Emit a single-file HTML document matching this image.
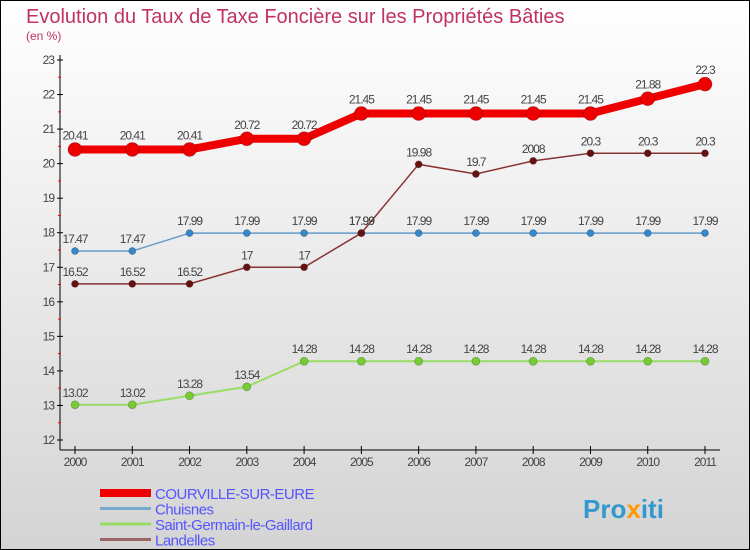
<!DOCTYPE html>
<html><head><meta charset="utf-8"><style>
body{margin:0}
#c{width:750px;height:550px;position:relative;overflow:hidden}
</style></head><body>
<div id="c">
<svg id="s" width="750" height="550" xmlns="http://www.w3.org/2000/svg" font-family="Liberation Sans, sans-serif">
<defs><linearGradient id="bg" x1="0" y1="0" x2="0" y2="1"><stop offset="0" stop-color="#ffffff"/><stop offset="1" stop-color="#d4d4d4"/></linearGradient></defs>
<rect x="0.5" y="0.5" width="749" height="549" fill="url(#bg)" stroke="#000"/>
<text x="26" y="23" font-size="20" fill="#c0335f">Evolution du Taux de Taxe Foncière sur les Propriétés Bâties</text>
<text x="26" y="40" font-size="12" fill="#c0335f">(en %)</text>
<g id="axes"></g>
<g id="series"></g>
<g id="legend"></g>
<text x="583" y="518" font-size="26" font-weight="bold" fill="#3399cc">Pro<tspan fill="#ff9900">x</tspan>iti</text>
</svg>
</div>
<script>
const years=[2000,2001,2002,2003,2004,2005,2006,2007,2008,2009,2010,2011];
const yTicks=[12,13,14,15,16,17,18,19,20,21,22,23];
const courville=[20.41,20.41,20.41,20.72,20.72,21.45,21.45,21.45,21.45,21.45,21.88,22.3];
const chuisnes=[17.47,17.47,17.99,17.99,17.99,17.99,17.99,17.99,17.99,17.99,17.99,17.99];
const stGermain=[13.02,13.02,13.28,13.54,14.28,14.28,14.28,14.28,14.28,14.28,14.28,14.28];
const landelles=[16.52,16.52,16.52,17,17,17.99,19.98,19.7,20.08,20.3,20.3,20.3];
const courvilleLbl=["20.41","20.41","20.41","20.72","20.72","21.45","21.45","21.45","21.45","21.45","21.88","22.3"];
const chuisnesLbl=["17.47","17.47","17.99","17.99","17.99","17.99","17.99","17.99","17.99","17.99","17.99","17.99"];
const stGermainLbl=["13.02","13.02","13.28","13.54","14.28","14.28","14.28","14.28","14.28","14.28","14.28","14.28"];
const landellesLbl=["16.52","16.52","16.52","17","17","17.99","19.98","19.7","2008","20.3","20.3","20.3"];
const seriesNames=["COURVILLE-SUR-EURE","Chuisnes","Saint-Germain-le-Gaillard","Landelles"];

const NS="http://www.w3.org/2000/svg";
const x=i=>75+i*(630/11);
const y=v=>440-(v-12)*(380/11);
function mk(tag,attrs,parent){const e=document.createElementNS(NS,tag);for(const k in attrs)e.setAttribute(k,attrs[k]);parent.appendChild(e);return e;}
const ax=document.getElementById('axes');
let e=mk('line',{x1:60,y1:55,x2:60,y2:450,stroke:'#000'},ax);


e=mk('line',{x1:60,y1:450,x2:720,y2:450,stroke:'#000'},ax);


yTicks.forEach(t=>{
  mk('line',{x1:57,x2:63,y1:y(t),y2:y(t),stroke:'#000'},ax);
  if(t<23) mk('line',{x1:58,x2:61,y1:y(t+0.5),y2:y(t+0.5),stroke:'#f00'},ax);
  const tx=mk('text',{x:54,y:y(t)+4,'font-size':12,'text-anchor':'end',fill:'#444','letter-spacing':'-1'},ax);
  tx.textContent=t;
  
  
});
years.forEach((yr,i)=>{
  mk('line',{x1:x(i),x2:x(i),y1:446,y2:454,stroke:'#000'},ax);
  const tx=mk('text',{x:x(i),y:466,'font-size':12,'text-anchor':'middle',fill:'#444','letter-spacing':'-1'},ax);
  tx.textContent=yr;
  
  
});
const sg=document.getElementById('series');
function draw(vals,lbls,color,dot,w,r,name){
  const g=mk('g',{},sg);
  
  
  const p=mk('polyline',{points:vals.map((v,i)=>x(i)+','+y(v)).join(' '),fill:'none',stroke:color,'stroke-width':w},g);
  
  
  vals.forEach((v,i)=>{
    const c=mk('circle',{cx:x(i),cy:y(v),r:r,fill:dot,stroke:'rgba(0,0,0,0.25)','stroke-width':0.8},g);
    
    
    const t=mk('text',{x:x(i),y:y(v)-(w>4?10:8),'font-size':12,'text-anchor':'middle',fill:'#444','letter-spacing':'-1'},g);
    t.textContent=lbls[i];
    
    
  });
}
draw(stGermain,stGermainLbl,'#99dd66','#77cc33',2,4,'saint-germain');
draw(chuisnes,chuisnesLbl,'#6699cc','#3388cc',1.5,3.5,'chuisnes');
draw(landelles,landellesLbl,'#883333','#661111',1.5,3.5,'landelles');
draw(courville,courvilleLbl,'#ee0000','#ee0000',8,7,'courville');
const lg=document.getElementById('legend');
const lcol=['#ee0000','#77aacc','#99dd66','#996666'],lw=[8,3,3,3];
seriesNames.forEach((n,i)=>{
  const ly=493+i*15.5;
  const l=mk('line',{x1:100,x2:151,y1:ly,y2:ly,stroke:lcol[i],'stroke-width':lw[i]},lg);
  
  
  const t=mk('text',{x:155,y:ly+6,'font-size':15,fill:'#5555ff','letter-spacing':'-0.5'},lg);
  t.textContent=n;
  
  
});
</script>
</body></html>
